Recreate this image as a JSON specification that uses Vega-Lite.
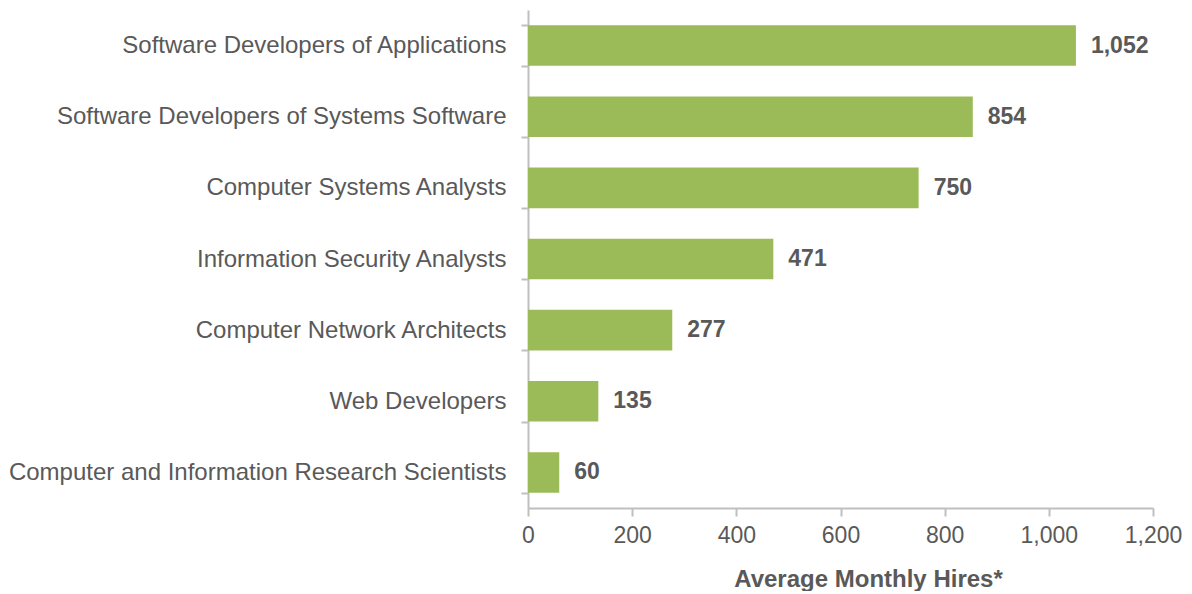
{
  "$schema": "https://vega.github.io/schema/vega-lite/v6.json",
  "width": 625,
  "height": 498,
  "padding": {"left": 8, "top": -2, "right": 5, "bottom": 0},
  "background": "white",
  "config": {"view": {"stroke": null}, "font": "Liberation Sans"},
  "data": {"values": [
    {"occupation": "Software Developers of Applications", "hires": 1052},
    {"occupation": "Software Developers of Systems Software", "hires": 854},
    {"occupation": "Computer Systems Analysts", "hires": 750},
    {"occupation": "Information Security Analysts", "hires": 471},
    {"occupation": "Computer Network Architects", "hires": 277},
    {"occupation": "Web Developers", "hires": 135},
    {"occupation": "Computer and Information Research Scientists", "hires": 60}
  ]},
  "encoding": {
    "y": {"field": "occupation", "type": "nominal", "sort": null,
      "scale": {"paddingInner": 0.43, "paddingOuter": 0.215},
      "axis": {"title": null, "domainColor": "#BFBFBF", "domainWidth": 2, "tickColor": "#BFBFBF", "tickWidth": 2, "tickSize": 7, "tickBand": "extent",
        "labelFont": "Liberation Sans", "labelFontSize": 24, "labelColor": "#595959", "labelPadding": 15, "labelLimit": 700}},
    "x": {"field": "hires", "type": "quantitative",
      "scale": {"domain": [0, 1200], "nice": false},
      "axis": {"title": "Average Monthly Hires*", "values": [0, 200, 400, 600, 800, 1000, 1200], "format": ",d", "grid": false, "labelFlush": false,
        "domainColor": "#BFBFBF", "domainWidth": 2, "tickColor": "#BFBFBF", "tickWidth": 2, "tickSize": 8,
        "labelFont": "Liberation Sans", "labelFontSize": 23, "labelColor": "#595959", "labelPadding": 8,
        "titleFont": "Liberation Sans", "titleFontSize": 24, "titleFontWeight": "bold", "titleColor": "#595959", "titlePadding": 20,
        "titleX": 340, "titleAlign": "center"}}
  },
  "layer": [
    {"mark": {"type": "bar", "color": "#9BBB59"}},
    {"mark": {"type": "text", "align": "left", "baseline": "middle", "dx": 15, "font": "Liberation Sans", "fontSize": 23, "fontWeight": "bold", "color": "#595959"},
     "encoding": {"text": {"field": "hires", "type": "quantitative", "format": ",d"}}}
  ]
}
